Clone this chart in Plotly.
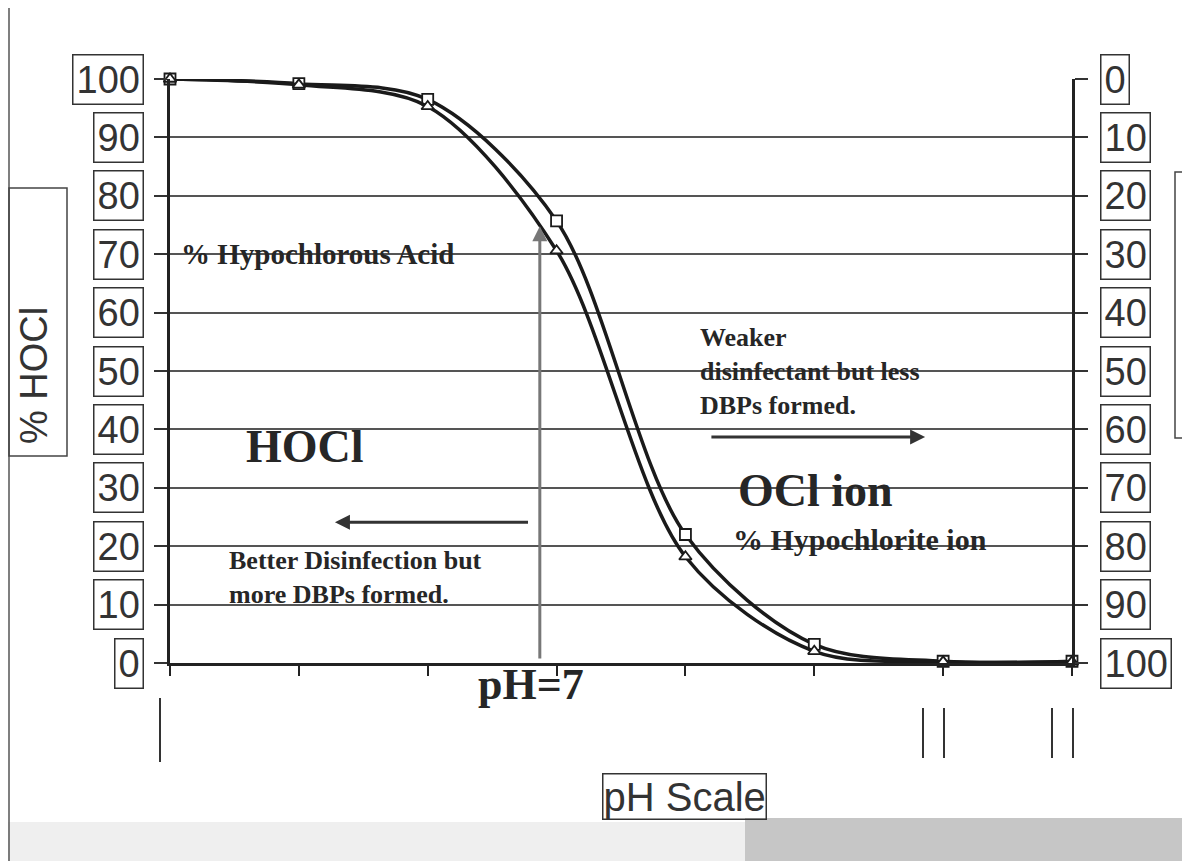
import plotly.graph_objects as go

# ---- data ----
ph_values = [4, 5, 6, 7, 8, 9, 10, 11]
hocl_square = [100, 99.2, 96.5, 75.7, 22.0, 3.2, 0.3, 0.3]
hocl_triangle = [100, 99.0, 95.3, 70.6, 18.2, 2.0, 0.2, 0.2]
left_tick_vals = [0, 10, 20, 30, 40, 50, 60, 70, 80, 90, 100]
left_tick_text = ["0", "10", "20", "30", "40", "50", "60", "70", "80", "90", "100"]
right_tick_vals = [0, 10, 20, 30, 40, 50, 60, 70, 80, 90, 100]
right_tick_text = ["0", "10", "20", "30", "40", "50", "60", "70", "80", "90", "100"]

# page layout (the html body adds an 8px offset)
OFF = 8
PAGE_W, PAGE_H = 1190, 861
PL, PR, PT, PB = 170, 1072, 79, 663   # plot area edges in page pixels
W, H = PAGE_W - OFF, PAGE_H - OFF
ML, MT = PL - OFF, PT - OFF
MR, MB = W + OFF - PR, H + OFF - PB
PW, PHt = PR - PL, PB - PT


def px(x):
    return (x - PL) / PW


def py(y):
    return (PB - y) / PHt


TXT = "#262626"
SERIF = "Liberation Serif, Times New Roman, serif"
SANS = "Liberation Sans, Arial, sans-serif"

fig = go.Figure()
fig.add_trace(go.Scatter(
    x=ph_values, y=hocl_square, mode="lines+markers", cliponaxis=False,
    line=dict(color="#1a1a1a", width=3.5, shape="spline", smoothing=0.9),
    marker=dict(symbol="square", size=11, color="white", line=dict(width=1.8, color="#1a1a1a")),
    showlegend=False, hoverinfo="skip"))
fig.add_trace(go.Scatter(
    x=ph_values, y=hocl_triangle, mode="lines+markers", cliponaxis=False,
    line=dict(color="#1a1a1a", width=3.5, shape="spline", smoothing=0.9),
    marker=dict(symbol="triangle-up", size=11, color="white", line=dict(width=1.8, color="#1a1a1a")),
    showlegend=False, hoverinfo="skip"))
# dummy trace so the right axis is drawn
fig.add_trace(go.Scatter(x=[None], y=[None], yaxis="y2", showlegend=False, hoverinfo="skip"))

annotations = []
for v, t in zip(left_tick_vals, left_tick_text):
    annotations.append(dict(
        x=px(144), xref="paper", y=v, yref="y", xanchor="right", yanchor="middle",
        text=t, showarrow=False, font=dict(family=SANS, size=38, color="#333"),
        bordercolor="#333", borderwidth=1.5, borderpad=3))
for v, t in zip(right_tick_vals, right_tick_text):
    annotations.append(dict(
        x=px(1100), xref="paper", y=v, yref="y2", xanchor="left", yanchor="middle",
        text=t, showarrow=False, font=dict(family=SANS, size=38, color="#333"),
        bordercolor="#333", borderwidth=1.5, borderpad=3))

annotations.append(dict(x=px(34), xref="paper", y=py(376), yref="paper", text="% HOCl",
                        textangle=-90, showarrow=False, xanchor="center", yanchor="middle",
                        font=dict(family=SANS, size=38, color="#333")))
annotations.append(dict(x=px(684), xref="paper", y=py(796), yref="paper", text="pH Scale",
                        showarrow=False, xanchor="center", yanchor="middle",
                        font=dict(family=SANS, size=40, color="#333"),
                        bordercolor="#333", borderwidth=1.5, borderpad=0))
annotations.append(dict(x=6.80, xref="x", y=py(684), yref="paper", text="<b>pH=7</b>",
                        showarrow=False, xanchor="center", yanchor="middle",
                        font=dict(family=SERIF, size=44, color=TXT)))

in_chart = [
    dict(x=4.07, y=70, text="% Hypochlorous Acid", xanchor="left",
         font=dict(family=SERIF, size=29, color=TXT)),
    dict(x=5.05, y=37, text="HOCl", xanchor="center", font=dict(family=SERIF, size=46, color=TXT)),
    dict(x=4.44, y=14.7, text="Better Disinfection but<br>more DBPs formed.", xanchor="left",
         align="left", font=dict(family=SERIF, size=26, color=TXT)),
    dict(x=8.10, y=50, text="Weaker<br>disinfectant but less<br>DBPs formed.", xanchor="left",
         align="left", font=dict(family=SERIF, size=26, color=TXT)),
    dict(x=9.01, y=29.6, text="OCl ion", xanchor="center", font=dict(family=SERIF, size=46, color=TXT)),
    dict(x=8.35, y=21.2, text="% Hypochlorite ion", xanchor="left",
         font=dict(family=SERIF, size=30, color=TXT)),
]
for a in in_chart:
    a.update(xref="x", yref="y", showarrow=False, yanchor="middle")
    a["text"] = "<b>" + a["text"].replace("<br>", "</b><br><b>") + "</b>"
annotations += in_chart

annotations += [
    dict(x=6.87, y=74.8, ax=6.87, ay=0.5, xref="x", yref="y", axref="x", ayref="y",
         showarrow=True, arrowhead=2, arrowsize=1, arrowwidth=3, arrowcolor="#777", text=""),
    dict(x=5.28, y=24.1, ax=6.79, ay=24.1, xref="x", yref="y", axref="x", ayref="y",
         showarrow=True, arrowhead=2, arrowsize=1, arrowwidth=3, arrowcolor="#333", text=""),
    dict(x=9.86, y=38.7, ax=8.19, ay=38.7, xref="x", yref="y", axref="x", ayref="y",
         showarrow=True, arrowhead=2, arrowsize=1, arrowwidth=3, arrowcolor="#333", text=""),
]

shapes = [
    dict(type="line", xref="paper", yref="paper", x0=px(9), x1=px(9), y0=py(861), y1=py(8),
         line=dict(color="#555", width=1.5)),
    dict(type="rect", xref="paper", yref="paper", x0=px(9), x1=px(67), y0=py(456), y1=py(188),
         line=dict(color="#444", width=1.5)),
    dict(type="rect", xref="paper", yref="paper", x0=px(1175), x1=px(1200), y0=py(438), y1=py(172),
         line=dict(color="#444", width=1.5)),
    dict(type="rect", xref="paper", yref="paper", x0=px(0), x1=px(745), y0=py(861), y1=py(822),
         fillcolor="#efefef", line=dict(width=0), layer="below"),
    dict(type="rect", xref="paper", yref="paper", x0=px(745), x1=px(1195), y0=py(861), y1=py(818),
         fillcolor="#c6c6c6", line=dict(width=0), layer="below"),
]
for xx, y0, y1 in [(160, 698, 762), (923, 708, 758), (944, 708, 758), (1052, 708, 758), (1073, 708, 758)]:
    shapes.append(dict(type="line", xref="paper", yref="paper", x0=px(xx), x1=px(xx),
                       y0=py(y1), y1=py(y0), line=dict(color="#333", width=2)))

fig.update_layout(
    width=W, height=H,
    margin=dict(l=ML, r=MR, t=MT, b=MB),
    paper_bgcolor="white", plot_bgcolor="white",
    xaxis=dict(range=[4, 11], dtick=1, tick0=4, showgrid=False, zeroline=False,
               showticklabels=False, ticks="outside", ticklen=10, tickwidth=2, tickcolor="#222",
               showline=True, linecolor="#222", linewidth=2.5),
    yaxis=dict(range=[0, 100], tickvals=left_tick_vals, showgrid=True, gridcolor="#555",
               gridwidth=1.5, zeroline=False, showticklabels=False, ticks="outside",
               ticklen=13, tickwidth=1.5, tickcolor="#333",
               showline=True, linecolor="#222", linewidth=2.5),
    yaxis2=dict(range=[100, 0], tickvals=right_tick_vals, overlaying="y", side="right",
                showgrid=False, zeroline=False, showticklabels=False, ticks="outside",
                ticklen=13, tickwidth=1.5, tickcolor="#333",
                showline=True, linecolor="#222", linewidth=2.5),
    annotations=annotations,
    shapes=shapes,
    showlegend=False,
)

fig.write_html("out.html")
